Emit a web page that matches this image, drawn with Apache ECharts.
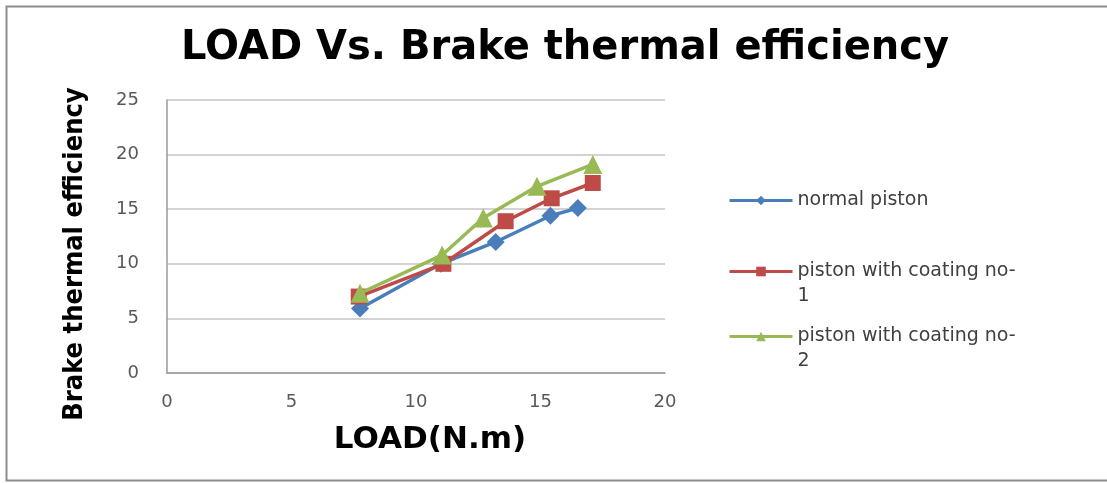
<!DOCTYPE html>
<html>
<head>
<meta charset="utf-8">
<script src="https://cdn.jsdelivr.net/npm/echarts@6/dist/echarts.min.js"></script>
<style>html,body{margin:0;padding:0;background:#fff}#c{width:1107px;height:483px}</style>
</head>
<body>
<div id="c"></div>
<script>
const seriesNames = ['normal piston', 'piston with coating no-1', 'piston with coating no-2'];
const normalLoad = [7.75, 11.0, 13.2, 15.4, 16.5];
const normalEff = [5.9, 10.0, 12.0, 14.4, 15.1];
const coat1Load = [7.7, 11.1, 13.6, 15.45, 17.1];
const coat1Eff = [7.0, 10.0, 13.9, 16.0, 17.4];
const coat2Load = [7.75, 11.05, 12.7, 14.86, 17.1];
const coat2Eff = [7.3, 10.8, 14.2, 17.1, 19.1];
const legendLabels = ['normal piston', '\npiston with coating no-\n1', '\npiston with coating no-\n2'];

const colors = ['#4A7EBB', '#BE4B48', '#98B954'];
const symbols = ['diamond', 'rect', 'triangle'];
const sizes = [18, 16, 19];
const pairs = [[normalLoad, normalEff], [coat1Load, coat1Eff], [coat2Load, coat2Eff]];

const chart = echarts.init(document.getElementById('c'), null, {renderer: 'canvas'});
const legendTops = [188, 234, 299];
const option = {
  backgroundColor: '#fff',
  animation: false,
  title: {
    text: 'LOAD Vs. Brake thermal efficiency',
    left: 560, textAlign: 'center', top: 24,
    textStyle: {fontFamily: 'DejaVu Sans', fontWeight: 'bold', fontSize: 40, color: '#000'}
  },
  legend: seriesNames.map((n, i) => ({
    data: [n],
    left: 728, top: legendTops[i], padding: 0,
    orient: 'vertical',
    itemWidth: 63, itemHeight: 12, itemGap: 0,
    lineStyle: {width: 3},
    formatter: () => legendLabels[i],
    textStyle: {fontFamily: 'DejaVu Sans', fontSize: 19, color: '#404040', lineHeight: 25}
  })),
  grid: {left: 167, right: 442, top: 100, bottom: 110, containLabel: false},
  xAxis: {
    type: 'value', min: 0, max: 20, interval: 5,
    name: 'LOAD(N.m)', nameLocation: 'middle', nameGap: 51,
    nameTextStyle: {fontFamily: 'DejaVu Sans', fontWeight: 'bold', fontSize: 31, color: '#000', padding: [0, 0, 0, 28]},
    axisLine: {lineStyle: {color: '#9a9a9a', width: 1.5}},
    axisTick: {show: false},
    splitLine: {show: false},
    axisLabel: {fontFamily: 'DejaVu Sans', fontSize: 18, color: '#595959', margin: 20}
  },
  yAxis: {
    type: 'value', min: 0, max: 25, interval: 5,
    name: 'Brake thermal efficiency', nameLocation: 'middle', nameGap: 79,
    nameTextStyle: {fontFamily: "'DejaVu Sans Condensed', 'Liberation Sans Narrow', 'DejaVu Sans'", fontWeight: 'bold', fontSize: 27, color: '#000', padding: [0, 35, 0, 0]},
    axisLine: {show: true, lineStyle: {color: '#9a9a9a', width: 1.5}},
    axisTick: {show: false},
    splitLine: {lineStyle: {color: '#c4c4c4', width: 1.5}},
    axisLabel: {fontFamily: 'DejaVu Sans', fontSize: 18, color: '#595959', margin: 28}
  },
  graphic: [{
    type: 'rect', shape: {x: 6.5, y: 6.5, width: 1120, height: 474},
    style: {fill: 'none', stroke: '#8c8c8c', lineWidth: 2}, silent: true, z: 100
  }],
  series: seriesNames.map((n, i) => ({
    name: n, type: 'line',
    data: pairs[i][0].map((x, k) => [x, pairs[i][1][k]]),
    symbol: symbols[i], symbolSize: sizes[i],
    lineStyle: {color: colors[i], width: 3.5},
    itemStyle: {color: colors[i]},
    z: 2 + i
  }))
};
chart.setOption(option);
</script>
</body>
</html>
